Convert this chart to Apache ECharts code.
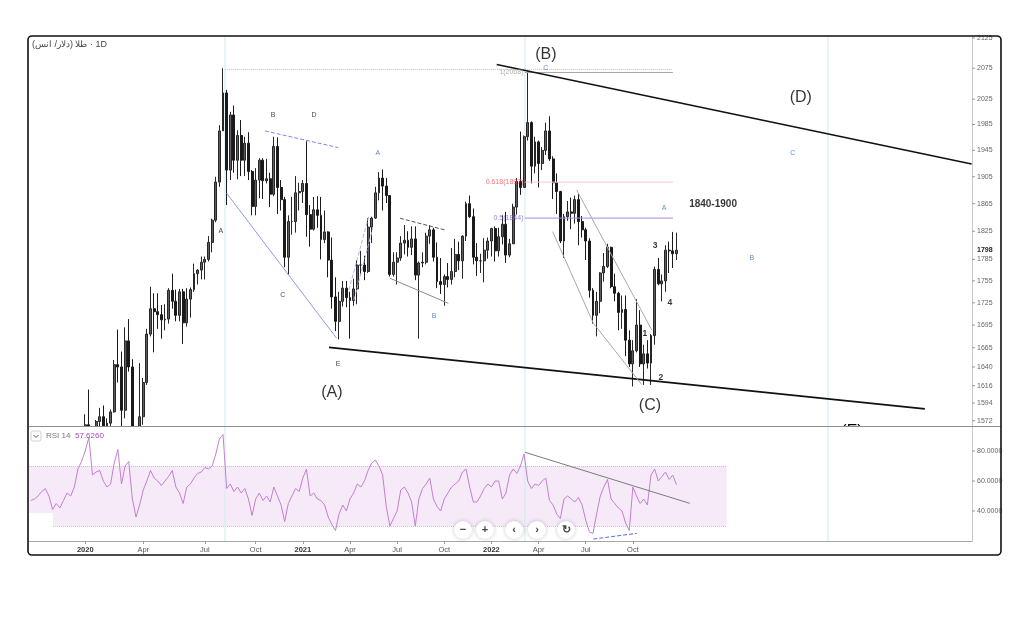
<!DOCTYPE html>
<html><head><meta charset="utf-8">
<script src="https://cdn.jsdelivr.net/npm/echarts@6/dist/echarts.min.js"></script>
<style>html,body{margin:0;padding:0;background:#fff}#c{width:1024px;height:617px}</style>
</head><body><div id="c"></div>
<script>
// ---------------- DATA ----------------
const quarterNames = ['', '2020', 'Apr', 'Jul', 'Oct', '2021', 'Apr', 'Jul', 'Oct', '2022', 'Apr', 'Jul', 'Oct'];
const barsInQuarter = [15, 16, 17, 14, 13, 13, 13, 13, 13, 13, 13, 13, 13];
const futureBars = 81;

const opens = [1472,1504,1494,1490,1497,1505,1511,1467,1468,1462,
1458,1464,1476,1477,1499,1517,1567,1560,1557,1571,
1577,1556,1569,1583,1643,1640,1585,1674,1640,1530,
1499,1577,1620,1683,1717,1713,1709,1702,1703,1742,
1727,1708,1740,1698,1730,1743,1765,1770,1781,1785,
1809,1841,1897,1975,2035,1915,2000,1930,1968,1930,
1956,1913,1861,1900,1930,1899,1902,1879,1951,1889,
1871,1788,1839,1839,1881,1883,1895,1849,1828,1856,
1848,1813,1824,1784,1733,1700,1727,1745,1732,1728,
1744,1777,1777,1768,1831,1844,1881,1903,1891,1877,
1764,1781,1787,1808,1812,1802,1814,1763,1780,1781,
1818,1827,1788,1754,1750,1761,1757,1768,1792,1783,
1818,1865,1846,1788,1783,1783,1798,1811,1829,1797,
1817,1835,1791,1807,1860,1898,1889,1966,1988,1921,
1958,1925,1945,1975,1932,1896,1883,1811,1846,1853,
1851,1871,1839,1827,1811,1742,1708,1727,1766,1775,
1802,1747,1738,1712,1716,1675,1644,1661,1695,1644,
1657,1645,1681,1771,1751,1755,1798,1797,1793];
const closes = [1504,1494,1490,1497,1505,1511,1467,1468,1462,1458,
1464,1476,1477,1499,1517,1567,1560,1557,1571,1577,
1556,1569,1583,1643,1640,1585,1674,1640,1530,1499,
1577,1620,1683,1717,1713,1709,1702,1703,1742,1727,
1708,1740,1698,1730,1743,1765,1770,1781,1785,1809,
1841,1897,1975,2035,1915,2000,1930,1968,1930,1956,
1913,1861,1900,1930,1899,1902,1879,1951,1889,1871,
1788,1839,1839,1881,1883,1895,1849,1828,1856,1848,
1813,1824,1784,1733,1700,1727,1745,1732,1728,1744,
1777,1777,1768,1831,1844,1881,1903,1891,1877,1764,
1781,1787,1808,1812,1802,1814,1763,1780,1781,1818,
1827,1788,1754,1750,1761,1757,1768,1792,1783,1818,
1865,1846,1788,1783,1783,1798,1811,1829,1797,1817,
1835,1791,1807,1860,1898,1889,1966,1988,1921,1958,
1925,1945,1975,1932,1896,1883,1811,1846,1853,1851,
1871,1839,1827,1811,1742,1708,1727,1766,1775,1802,
1747,1738,1712,1716,1675,1644,1661,1695,1644,1657,
1645,1681,1771,1751,1755,1798,1797,1793,1798];
const lows = [1459,1482,1474,1483,1487,1491,1456,1456,1452,1454,
1455,1459,1472,1477,1497,1517,1545,1536,1546,1565,
1548,1553,1562,1582,1620,1563,1575,1634,1517,1451,
1484,1567,1617,1680,1659,1690,1677,1688,1697,1717,
1700,1700,1670,1693,1705,1740,1750,1757,1757,1782,
1795,1838,1890,1975,1863,1900,1911,1901,1906,1906,
1900,1848,1848,1873,1872,1895,1860,1876,1850,1855,
1774,1764,1820,1823,1855,1866,1817,1803,1826,1830,
1785,1808,1760,1717,1687,1676,1720,1719,1677,1721,
1723,1763,1756,1766,1808,1843,1870,1855,1866,1761,
1761,1750,1783,1792,1789,1791,1756,1677,1774,1778,
1807,1782,1745,1737,1721,1746,1750,1760,1770,1758,
1811,1844,1778,1762,1766,1753,1786,1789,1782,1789,
1806,1780,1788,1807,1849,1878,1889,1960,1895,1910,
1889,1915,1938,1929,1872,1850,1808,1787,1840,1828,
1836,1805,1816,1784,1732,1697,1680,1711,1754,1773,
1745,1727,1688,1690,1654,1640,1615,1659,1640,1617,
1638,1617,1669,1749,1727,1740,1766,1773,1784];
const highs = [1519,1512,1500,1512,1518,1516,1513,1479,1476,1473,
1470,1481,1484,1504,1524,1580,1611,1564,1573,1588,
1591,1575,1586,1649,1689,1660,1692,1703,1650,1560,
1645,1626,1690,1747,1738,1738,1722,1723,1745,1765,
1743,1744,1744,1745,1746,1779,1771,1789,1789,1818,
1843,1905,1984,2075,2040,2005,2015,1976,1992,1966,
1973,1915,1918,1933,1933,1932,1911,1966,1965,1900,
1875,1848,1875,1906,1896,1900,1959,1863,1875,1876,
1875,1855,1825,1816,1760,1740,1755,1755,1740,1758,
1784,1797,1790,1844,1846,1890,1912,1916,1903,1877,
1795,1795,1818,1834,1825,1832,1832,1782,1795,1823,
1834,1830,1809,1787,1764,1780,1801,1814,1810,1819,
1868,1877,1858,1808,1793,1815,1816,1830,1832,1830,
1848,1853,1814,1865,1903,1974,1968,2070,1990,1966,
1960,1950,1988,1998,1936,1910,1884,1850,1869,1874,
1877,1880,1847,1830,1815,1745,1740,1767,1794,1807,
1803,1765,1740,1735,1735,1688,1675,1730,1715,1669,
1675,1683,1775,1787,1764,1805,1810,1824,1823];

const rsiValues = [47,48,50,53,55,50,41,45,42,47,
52,50,56,68,73,80,89,64,66,67,
60,56,58,72,81,58,70,73,48,36,
44,54,60,67,62,60,57,60,63,67,
56,52,45,56,58,62,65,66,69,68,
70,78,88,91,55,58,53,56,52,55,
48,37,48,52,47,50,46,56,50,44,
33,45,50,55,53,62,68,50,52,48,
47,44,36,31,27,38,44,40,48,52,
58,56,60,67,72,74,70,64,43,30,
35,40,54,56,52,46,30,48,55,58,
62,48,43,40,48,52,56,58,60,66,
68,56,46,46,50,55,58,56,60,60,
48,52,64,68,65,70,78,60,55,58,
57,60,62,47,44,38,35,48,50,48,
46,49,44,34,26,25,38,50,56,61,
48,45,42,40,32,27,56,50,45,48,
44,64,68,60,63,66,61,64,57.626];

const priceTicks = [2125,2075,2025,1985,1945,1905,1865,1825,1785,1755,1725,1695,1665,1640,1616,1594,1572];
const lastPrice = 1798;
const rsiTicks = [40, 60, 80];
const priceMin = 1565.5, priceMax = 2128.3;
const rsiMin = 20, rsiMax = 96;

// drawings, in [bar index, price] / [bar index, rsi]
const upperTrend = [[128.45, 2081.1], [259.4, 1924.3]];
const lowerTrend = [[82.2, 1665.5], [246.5, 1586.8]];
const blueDiag = [[54.0, 1880.4], [84.3, 1677.6]];
const blueDotted = [[64.57, 1975], [84.78, 1949.2]];
const blueWaveA1 = [[87.7, 1742.5], [93.2, 1847.1]];
const blueWaveA2 = [[89.1, 1728.9], [94.3, 1829.7]];
const blackDotted = [[101.8, 1843.8], [114.2, 1826.8]];
const greyB = [[99.0, 1758.7], [115.1, 1724.3]];
const wedgeUpper = [[150.5, 1885.3], [171.2, 1688.5]];
const wedgeLower = [[143.9, 1824.4], [155.1, 1697.5], [168.4, 1617.6]];
const highRef = [[53.5, 2073], [177.06, 2073]];
const fibLevels = [['1', 2068], ['0.618', 1897], ['0.5', 1844]];
const fibSpan = [136.25, 177.06];
const verticalMarks = [53.54, 136.25, 219.8];
const rsiTrend = [[136.3, 79.1], [181.7, 45.1]];
const rsiDiverg = [[155.1, 21.3], [167.05, 25.1]];
const rsiBand = [[-0.5, 6.1, 38.7, 70], [6.1, 191.9, 30, 70]];

const waveBig = [['(B)', 142.0, 2096.7], ['(A)', 83.0, 1606.9], ['(C)', 170.7, 1590.4], ['(D)', 212.3, 2026.9]];
const waveBlack = [['A', 52.4, 1825.4], ['B', 66.8, 2000.0], ['D', 78.1, 2000.0], ['C', 69.5, 1735.7], ['E', 84.7, 1643.9]];
const waveBlue = [['A', 95.7, 1941.1], ['B', 111.2, 1707.2], ['C', 142.0, 2075.4], ['A', 174.6, 1858.8], ['B', 198.8, 1787.0], ['C', 210.1, 1941.1]];
const waveNums = [['3', 172.1, 1804.0], ['4', 176.2, 1724.8], ['1', 169.3, 1683.2], ['2', 173.7, 1625.8]];
const zoneText = [['1840-1900', 188.1, 1864.6]];

// ---------------- BUILD ----------------
const FONT = "'Liberation Sans', Arial, sans-serif";
const categories = [], labelOf = {};
quarterNames.forEach((q, qi) => {
  for (let k = 0; k < barsInQuarter[qi]; k++) {
    const c = 'q' + qi + '_' + k; categories.push(c); labelOf[c] = k === 0 ? q : '';
  }
});
for (let k = 0; k < futureBars; k++) { const c = 'f_' + k; categories.push(c); labelOf[c] = ''; }
const nCat = categories.length;
const candles = opens.map((o, i) => [o, closes[i], lows[i], highs[i]]);
const fibStyle = {'1': {line: '#a8a8a8', text: '#9a9a9a'}, '0.618': {line: '#f8c9cc', text: '#f0525a'}, '0.5': {line: '#a48ee0', text: '#7e63d0'}};

function seg(points, color, width, type, xi, yi, z) {
  return {type: 'line', xAxisIndex: xi === undefined ? 1 : xi, yAxisIndex: yi === undefined ? 0 : yi,
    data: points, symbol: 'none', silent: true, z: z || 4, animation: false,
    lineStyle: {color: color, width: width, type: type || 'solid'}};
}
function labels(items, style, z) {
  return {type: 'scatter', xAxisIndex: 1, yAxisIndex: 0, silent: true, symbolSize: 1, z: z || 6,
    itemStyle: {color: 'rgba(0,0,0,0)'},
    data: items.map(t => ({name: t[0], value: [t[1], t[2]]})),
    label: Object.assign({show: true, position: 'inside', formatter: '{b}', fontFamily: FONT}, style)};
}

const series = [];
series.push({type: 'candlestick', xAxisIndex: 0, yAxisIndex: 0, data: candles, barWidth: 2.4, clip: true, z: 2,
  itemStyle: {color: '#5e5e5e', color0: '#1a1a1a', borderColor: '#262626', borderColor0: '#1a1a1a', borderWidth: 1}});
// vertical marks
verticalMarks.forEach(x => {
  series.push(seg([[x, priceMax], [x, priceMin]], '#cdebf2', 1, 'solid', 1, 0, 1));
  series.push(seg([[x, rsiMax], [x, rsiMin]], '#cdebf2', 1, 'solid', 3, 1, 4));
});
series.push(seg(highRef, '#c4c4c4', 1, 'dotted'));
fibLevels.forEach(f => {
  series.push(seg([[fibSpan[0], f[1]], [fibSpan[1], f[1]]], fibStyle[f[0]].line, 1, 'solid'));
  series.push({type: 'scatter', xAxisIndex: 1, yAxisIndex: 0, silent: true, symbolSize: 1, z: 6,
    itemStyle: {color: 'rgba(0,0,0,0)'}, data: [{name: f[0] + '(' + f[1] + ')', value: [fibSpan[0], f[1]]}],
    label: {show: true, position: 'left', distance: 1, formatter: '{b}', fontSize: 7, color: fibStyle[f[0]].text, fontFamily: FONT}});
});
series.push(seg(upperTrend, '#111', 1.6));
series.push(seg(lowerTrend, '#111', 1.6));
series.push(seg(blueDiag, '#8f98ee', 1));
series.push(seg(blueDotted, '#7d86ee', 1, 'dashed'));
series.push(seg(blueWaveA1, '#aab2f2', 1, 'dashed'));
series.push(seg(blueWaveA2, '#aab2f2', 1, 'dashed'));
series.push(seg(blackDotted, '#555', 1, 'dashed'));
series.push(seg(greyB, '#8a8a8a', 1));
series.push(seg(wedgeUpper, '#a9a9a9', 1));
series.push(seg(wedgeLower, '#a9a9a9', 1));
series.push(labels(waveBig, {fontSize: 16, color: '#000'}));
series.push(labels(waveBlack, {fontSize: 7, color: '#111'}));
series.push(labels(waveBlue, {fontSize: 7, color: '#3f6fb8'}));
series.push(labels(waveNums, {fontSize: 8.5, color: '#000', fontWeight: 'bold'}));
series.push(labels(zoneText, {fontSize: 10, color: '#000', fontWeight: 'bold'}));
// RSI
series.push({type: 'line', xAxisIndex: 3, yAxisIndex: 1, data: [[0, 50]], symbol: 'none', silent: true, z: 3,
  lineStyle: {width: 0},
  markArea: {z: 3, silent: true, itemStyle: {color: 'rgba(212,160,222,0.22)'},
    data: rsiBand.map(b => [{coord: [b[0], b[3]]}, {coord: [b[1], b[2]]}])},
  markLine: {z: 3, silent: true, symbol: ['none', 'none'], label: {show: false},
    lineStyle: {type: 'dotted', color: '#d9b9de', width: 1},
    data: [[{coord: [rsiBand[0][0], 70]}, {coord: [rsiBand[1][1], 70]}], [{coord: [rsiBand[1][0], 30]}, {coord: [rsiBand[1][1], 30]}]]}});
series.push({type: 'line', xAxisIndex: 2, yAxisIndex: 1, data: rsiValues, symbol: 'none', silent: true, z: 5,
  lineStyle: {color: '#c47fd2', width: 1}});
series.push(seg(rsiTrend, '#7c7c7c', 1, 'solid', 3, 1, 5));
series.push(seg(rsiDiverg, '#5b67ee', 1, 'dashed', 3, 1, 5));

const tickInterval = (idx) => labelOf[categories[idx]] !== '';

const navButtons = [[463, '−'], [485, '+'], [514, '‹'], [537, '›'], [566, '↻']];
const graphic = [];
// white pane behind the RSI study (hides candles that run below the price pane)
graphic.push({type: 'rect', z: 2.5, shape: {x: 29, y: 427, width: 942.5, height: 113.5}, style: {fill: '#fff'}});
graphic.push({type: 'text', left: 32, top: 40, z: 50, style: {text: 'طلا (دلار/ انس)\u200E · 1D', fill: '#444', font: '9px ' + FONT}});
graphic.push({type: 'rect', z: 50, shape: {x: 31, y: 431, width: 10, height: 10, r: 2}, style: {fill: '#fff', stroke: '#d0d0d0', lineWidth: 1}});
graphic.push({type: 'polyline', z: 51, shape: {points: [[33.5, 435], [36, 437.5], [38.5, 435]]}, style: {stroke: '#555', lineWidth: 1, fill: null}});
graphic.push({type: 'text', z: 50, x: 46, y: 436, style: {text: 'RSI 14', fill: '#777', font: '8px ' + FONT, verticalAlign: 'middle'}});
graphic.push({type: 'text', z: 50, x: 75, y: 436, style: {text: rsiValues[rsiValues.length - 1].toFixed(4), fill: '#ab47bc', font: '8px ' + FONT, verticalAlign: 'middle'}});
navButtons.forEach(b => {
  graphic.push({type: 'circle', z: 50, shape: {cx: b[0], cy: 530, r: 9}, style: {fill: '#fff', shadowBlur: 4, shadowColor: 'rgba(0,0,0,0.22)'}});
  graphic.push({type: 'text', z: 51, x: b[0], y: 530, style: {text: b[1], fill: '#444', font: 'bold 11px ' + FONT, align: 'center', verticalAlign: 'middle'}});
});
graphic.push({type: 'text', z: 40, x: 852, y: 432, style: {text: '(E)', fill: '#000', font: '16px ' + FONT, align: 'center', verticalAlign: 'middle'}});
graphic.push({type: 'rect', z: 41, shape: {x: 836, y: 426.5, width: 34, height: 16}, style: {fill: '#fff'}});
graphic.push({type: 'line', z: 42, shape: {x1: 29, y1: 426.5, x2: 1001, y2: 426.5}, style: {stroke: '#8e8e8e', lineWidth: 1}});
graphic.push({type: 'rect', z: 60, shape: {x: 28, y: 36, width: 973, height: 519, r: 4}, style: {fill: null, stroke: '#111', lineWidth: 1.6}});

const dashRich = {d: {width: 3, height: 1, backgroundColor: '#999'}, v: {padding: [0, 0, 0, 2], fontSize: 7, color: '#666', fontFamily: FONT},
  b: {padding: [0, 0, 0, 5], fontWeight: 'bold', color: '#222', fontSize: 7, fontFamily: FONT}};

const option = {
  animation: false,
  backgroundColor: '#fff',
  textStyle: {fontFamily: FONT},
  grid: [
    {left: 29, right: 52, top: 36, height: 390, containLabel: false, outerBoundsMode: 'none'},
    {left: 29, right: 52, top: 427, height: 114, containLabel: false, outerBoundsMode: 'none'}
  ],
  xAxis: [
    {type: 'category', gridIndex: 0, data: categories, boundaryGap: true, axisLine: {show: false, onZero: false}, axisTick: {show: false}, axisLabel: {show: false}, splitLine: {show: false}},
    {type: 'value', gridIndex: 0, min: -0.5, max: nCat - 0.5, show: false, axisLine: {onZero: false}},
    {type: 'category', gridIndex: 1, data: categories, boundaryGap: true,
      axisLine: {show: true, onZero: false, lineStyle: {color: '#a8a8a8'}},
      axisTick: {show: true, interval: tickInterval, alignWithLabel: true, length: 3, lineStyle: {color: '#999'}},
      axisLabel: {show: true, interval: tickInterval, margin: 5, fontSize: 7.5, color: '#555', fontFamily: FONT,
        formatter: v => { const t = labelOf[v]; return /^\d{4}$/.test(t) ? '{y|' + t + '}' : t; },
        rich: {y: {fontWeight: 'bold', color: '#333', fontSize: 7.5, fontFamily: FONT}}},
      splitLine: {show: false}},
    {type: 'value', gridIndex: 1, min: -0.5, max: nCat - 0.5, show: false, axisLine: {onZero: false}}
  ],
  yAxis: [
    {type: 'log', logBase: 10, gridIndex: 0, position: 'right', min: priceMin, max: priceMax,
      axisLine: {show: true, onZero: false, lineStyle: {color: '#c8c8c8'}},
      axisTick: {show: false},
      axisLabel: {show: true, customValues: priceTicks.concat([lastPrice]), margin: 0, fontSize: 7, color: '#666', fontFamily: FONT,
        formatter: v => { const r = Math.round(v); return r === lastPrice ? '{b|' + r + '}' : '{d|}{v|' + r + '}'; },
        rich: dashRich},
      splitLine: {show: false}},
    {type: 'value', gridIndex: 1, position: 'right', min: rsiMin, max: rsiMax,
      axisLine: {show: true, onZero: false, lineStyle: {color: '#c8c8c8'}},
      axisTick: {show: false},
      axisLabel: {show: true, customValues: rsiTicks, margin: 0, fontSize: 7, color: '#666', fontFamily: FONT,
        formatter: v => '{d|}{v|' + Number(v).toFixed(4) + '}', rich: dashRich},
      splitLine: {show: false}}
  ],
  series: series,
  graphic: graphic
};
const chart = echarts.init(document.getElementById('c'), null, {renderer: 'canvas'});
chart.setOption(option);
</script>
</body></html>
